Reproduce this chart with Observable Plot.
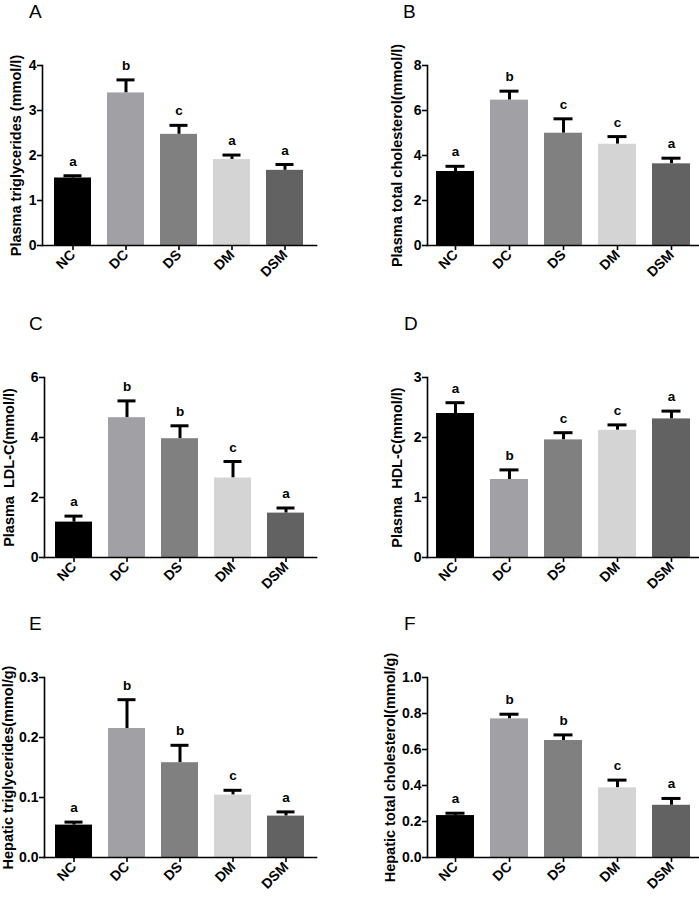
<!DOCTYPE html>
<html><head><meta charset="utf-8">
<script src="https://cdn.jsdelivr.net/npm/d3@7"></script>
<script src="https://cdn.jsdelivr.net/npm/@observablehq/plot@0.6"></script>
<style>
body{margin:0;background:#fff;font-family:"Liberation Sans",Arial,sans-serif;}
#wrap{position:relative;width:699px;height:897px;overflow:hidden;background:#fff;}
.panel{position:absolute;}
.plab{position:absolute;font-size:19px;font-family:"Liberation Sans",Arial,sans-serif;line-height:1;}
</style></head><body>
<div id="wrap"></div>
<script>
const groups = ["NC","DC","DS","DM","DSM"];
const colors = ["#000000","#a0a0a5","#808080","#d4d4d4","#626262"];

const aMean = [1.50,3.39,2.47,1.91,1.67];
const aUpper = [1.55,3.68,2.67,2.01,1.80];
const aLetters = ["a","b","c","a","a"];

const bMean = [3.29,6.46,4.99,4.50,3.63];
const bUpper = [3.52,6.86,5.63,4.84,3.88];
const bLetters = ["a","b","c","c","a"];

const cMean = [1.18,4.66,3.96,2.65,1.48];
const cUpper = [1.38,5.22,4.39,3.20,1.65];
const cLetters = ["a","b","b","c","a"];

const dMean = [2.40,1.30,1.96,2.12,2.31];
const dUpper = [2.58,1.46,2.08,2.21,2.44];
const dLetters = ["a","b","c","c","a"];

const eMean = [0.054,0.215,0.158,0.104,0.069];
const eUpper = [0.059,0.263,0.187,0.112,0.076];
const eLetters = ["a","b","b","c","a"];

const fMean = [0.233,0.770,0.650,0.387,0.290];
const fUpper = [0.246,0.796,0.681,0.430,0.328];
const fLetters = ["a","b","b","c","a"];

const panels = [
  {id:"A", mean:aMean, upper:aUpper, letters:aLetters, max:4, ticks:[0,1,2,3,4], fmt:d=>String(d), title:"Plasma triglycerides (mmol/l)", left:0, top:0, mL:42, mR:33, po:0.2, lo:32, lx:29},
  {id:"B", mean:bMean, upper:bUpper, letters:bLetters, max:8, ticks:[0,2,4,6,8], fmt:d=>String(d), title:"Plasma total cholesterol(mmol/l)", left:350, top:0, mL:77, mR:1, po:0.15, lo:36, lx:403},
  {id:"C", mean:cMean, upper:cUpper, letters:cLetters, max:6, ticks:[0,2,4,6], fmt:d=>String(d), title:"Plasma  LDL-C(mmol/l)", left:0, top:312, mL:44, mR:33, po:0.2, lo:41, lx:29},
  {id:"D", mean:dMean, upper:dUpper, letters:dLetters, max:3, ticks:[0,1,2,3], fmt:d=>String(d), title:"Plasma  HDL-C(mmol/l)", left:350, top:312, mL:77, mR:1, po:0.15, lo:36, lx:404},
  {id:"E", mean:eMean, upper:eUpper, letters:eLetters, max:0.3, ticks:[0,0.1,0.2,0.3], fmt:d=>d.toFixed(1), title:"Hepatic triglycerides(mmol/g)", left:0, top:612, mL:44, mR:33, po:0.2, lo:42, lx:29},
  {id:"F", mean:fMean, upper:fUpper, letters:fLetters, max:1.0, ticks:[0,0.2,0.4,0.6,0.8,1.0], fmt:d=>d.toFixed(1), title:"Hepatic total cholesterol(mmol/g)", left:350, top:612, mL:77, mR:1, po:0.15, lo:43, lx:404}
];

const wrap = document.getElementById("wrap");
for (const p of panels) {
  const data = groups.map((g,i)=>({group:g, mean:p.mean[i], upper:p.upper[i], letter:p.letters[i], color:colors[i]}));
  const chart = Plot.plot({
    width: 349, height: 300,
    marginLeft: p.mL, marginRight: p.mR, marginTop: 65, marginBottom: 55,
    style: {fontFamily: "Liberation Sans, Arial, sans-serif", fontSize: "14px", fontWeight: "bold", background: "#fff", overflow: "visible"},
    x: {domain: groups, paddingInner: 0.3, paddingOuter: p.po, label: null},
    y: {domain: [0, p.max], label: null},
    marks: [
      Plot.ruleX(data, {x: "group", y1: "mean", y2: "upper", stroke: "#000", strokeWidth: 3}),
      Plot.tickY(data, {x: "group", y: "upper", stroke: "#000", strokeWidth: 3, inset: 9.5}),
      Plot.barY(data, {x: "group", y: "mean", fill: "color"}),
      Plot.text(data, {x: "group", y: "upper", text: "letter", dy: -10, lineAnchor: "bottom", fontWeight: "bold", fontSize: 13.5, fill: "#000"}),
      Plot.frame({anchor: "left", stroke: "#000", strokeWidth: 1.6}),
      Plot.frame({anchor: "bottom", stroke: "#000", strokeWidth: 1.6}),
      Plot.axisY({ticks: p.ticks, tickFormat: p.fmt, tickSize: 5, tickPadding: 1, fontSize: 14, fontWeight: "bold", stroke: "#000", strokeWidth: 1.6, label: p.title, labelAnchor: "center", labelOffset: p.lo, labelArrow: "none"}),
      Plot.axisX({tickSize: 5, tickPadding: 2, tickRotate: -45, fontSize: 14, fontWeight: "bold", stroke: "#000", strokeWidth: 1.6, label: null})
    ]
  });
  chart.classList.add("panel");
  chart.style.left = p.left + "px";
  chart.style.top = p.top + "px";
  chart.querySelectorAll('[aria-label="y-axis label"], [aria-label="y-axis label"] text').forEach(el=>{el.setAttribute("font-weight","bold"); el.setAttribute("font-size","14.5");});
  wrap.appendChild(chart);
  const lab = document.createElement("div");
  lab.className = "plab";
  lab.textContent = p.id;
  lab.style.left = p.lx + "px";
  lab.style.top = (p.top + 2) + "px";
  wrap.appendChild(lab);
}
</script>
</body></html>
